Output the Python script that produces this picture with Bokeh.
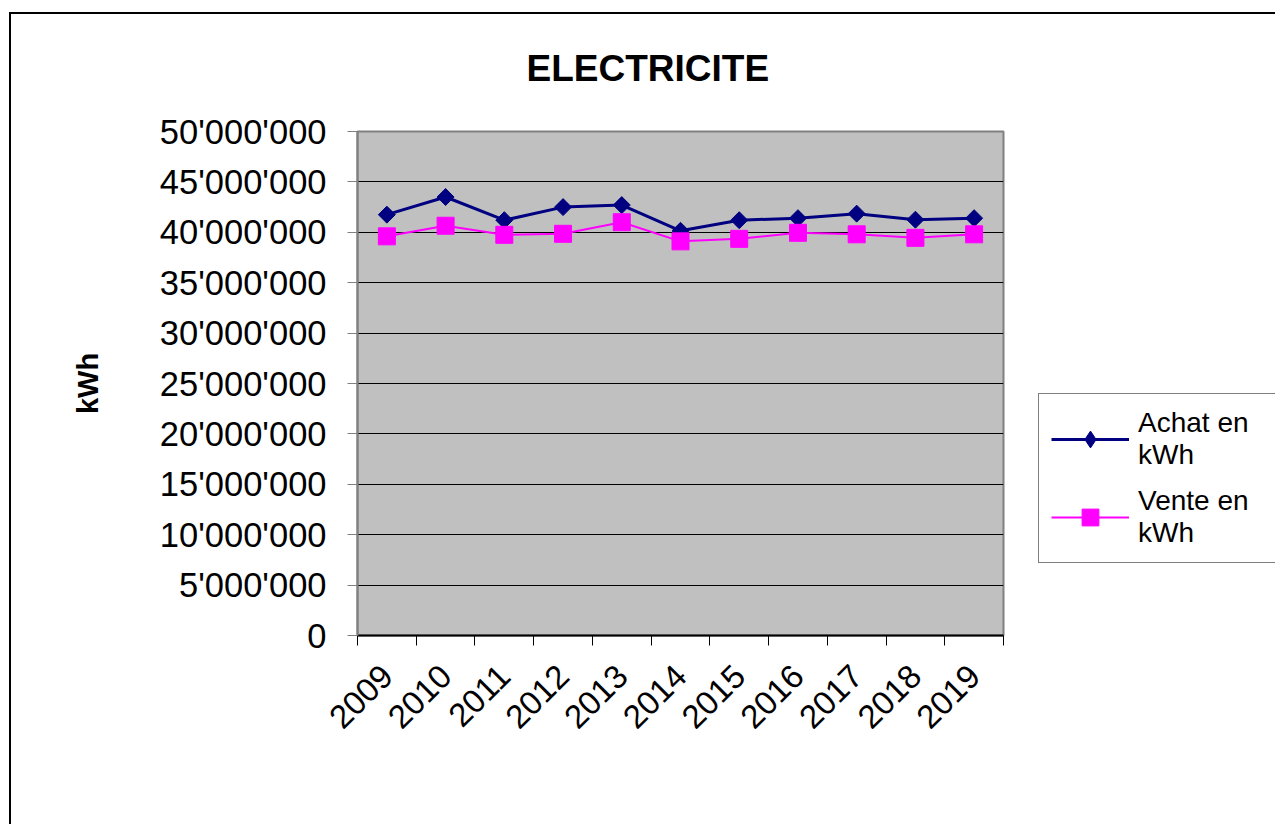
from math import pi
from bokeh.plotting import figure
from bokeh.layouts import row
from bokeh.models import ColumnDataSource, FixedTicker, Legend, LegendItem, Range1d, Title
from bokeh.embed import file_html
from bokeh.resources import INLINE

# ---- data ----
years = [2009, 2010, 2011, 2012, 2013, 2014, 2015, 2016, 2017, 2018, 2019]
achat = [41_750_000, 43_500_000, 41_200_000, 42_500_000, 42_700_000, 40_150_000,
         41_200_000, 41_400_000, 41_850_000, 41_250_000, 41_400_000]
vente = [39_600_000, 40_650_000, 39_750_000, 39_850_000, 41_000_000, 39_100_000,
         39_350_000, 39_950_000, 39_800_000, 39_450_000, 39_800_000]
y_ticks = [0, 5_000_000, 10_000_000, 15_000_000, 20_000_000, 25_000_000,
           30_000_000, 35_000_000, 40_000_000, 45_000_000, 50_000_000]
y_tick_labels = ["0", "5'000'000", "10'000'000", "15'000'000", "20'000'000", "25'000'000",
                 "30'000'000", "35'000'000", "40'000'000", "45'000'000", "50'000'000"]
series_names = ["Achat en\nkWh", "Vente en\nkWh"]
series_colors = ["#000080", "#FF00FF"]
title_text = "ELECTRICITE"
y_title = "kWh"

FONT = "Liberation Sans"
H = 810

src = ColumnDataSource(data=dict(year=years, achat=achat, vente=vente))

p = figure(width=1026, height=H,
           x_range=Range1d(years[0] - 0.5, years[-1] + 0.5),
           y_range=Range1d(y_ticks[0], y_ticks[-1]),
           output_backend="svg", toolbar_location=None,
           min_border_left=346, min_border_right=34,
           min_border_top=117, min_border_bottom=189,
           background_fill_color="#C0C0C0", border_fill_color="white",
           outline_line_color="#808080", outline_line_width=2)

# title (outermost) and an empty spacer title between it and the frame
p.title.text = title_text
p.title.align = "left"
p.title.offset = 169
p.title.text_font = FONT
p.title.text_font_size = "37px"
p.title.text_font_style = "bold"
p.title.text_color = "black"
p.title.standoff = 0
p.add_layout(Title(text=" ", text_font_size="10px", standoff=30), "above")

# grid
p.xgrid.visible = False
p.ygrid.grid_line_color = "black"
p.ygrid.grid_line_width = 1

# y axis
p.yaxis.ticker = FixedTicker(ticks=y_ticks, minor_ticks=[])
p.yaxis.major_label_overrides = {t: l for t, l in zip(y_ticks, y_tick_labels)}
p.yaxis.axis_line_color = "#808080"
p.yaxis.axis_line_width = 2
p.yaxis.major_tick_line_color = "#808080"
p.yaxis.major_tick_line_width = 1
p.yaxis.major_tick_out = 10
p.yaxis.major_tick_in = 0
p.yaxis.minor_tick_line_color = None
p.yaxis.major_label_text_font = FONT
p.yaxis.major_label_text_font_size = "34.5px"
p.yaxis.major_label_text_color = "black"
p.yaxis.major_label_standoff = 21
p.yaxis.axis_label = y_title
p.yaxis.axis_label_text_font = FONT
p.yaxis.axis_label_text_font_size = "29px"
p.yaxis.axis_label_text_font_style = "bold"
p.yaxis.axis_label_text_color = "black"
p.yaxis.axis_label_standoff = 53

# x axis
p.xaxis.ticker = FixedTicker(ticks=years, minor_ticks=[y - 0.5 for y in years] + [years[-1] + 0.5])
p.xaxis.major_label_overrides = {y: str(y) for y in years}
p.xaxis.axis_line_color = "black"
p.xaxis.axis_line_width = 2
p.xaxis.major_tick_out = 0
p.xaxis.major_tick_in = 0
p.xaxis.minor_tick_out = 10
p.xaxis.minor_tick_in = 0
p.xaxis.minor_tick_line_color = "black"
p.xaxis.minor_tick_line_width = 1
p.xaxis.major_label_orientation = pi / 4
p.xaxis.major_label_text_font = FONT
p.xaxis.major_label_text_font_size = "33px"
p.xaxis.major_label_text_color = "black"
p.xaxis.major_label_standoff = 25

# series
p.line("year", "achat", source=src, line_color=series_colors[0], line_width=3)
p.scatter("year", "achat", source=src, marker="square", angle=pi / 4, size=12,
          fill_color=series_colors[0], line_color=series_colors[0])
p.line("year", "vente", source=src, line_color=series_colors[1], line_width=2)
p.scatter("year", "vente", source=src, marker="square", size=17,
          fill_color=series_colors[1], line_color=series_colors[1])

# legend panel: a second figure whose ranges hold none of the data, so only
# its legend shows (a legend placed outside the main frame gets clipped)
lg = figure(width=238, height=H, x_range=Range1d(0, 1), y_range=Range1d(0, 1),
            output_backend="svg", toolbar_location=None,
            min_border_left=0, min_border_right=0, min_border_top=0, min_border_bottom=0,
            outline_line_color=None, background_fill_color="white",
            border_fill_color="white")
lg.axis.visible = False
lg.grid.visible = False
ll1 = lg.line("year", "achat", source=src, line_color=series_colors[0], line_width=3)
lm1 = lg.scatter("year", "achat", source=src, marker="diamond", size=20,
                 fill_color=series_colors[0], line_color=series_colors[0])
ll2 = lg.line("year", "vente", source=src, line_color=series_colors[1], line_width=2)
lm2 = lg.scatter("year", "vente", source=src, marker="square", size=17,
                 fill_color=series_colors[1], line_color=series_colors[1])

legend = Legend(items=[LegendItem(label=series_names[0], renderers=[ll1, lm1]),
                       LegendItem(label=series_names[1], renderers=[ll2, lm2])],
                location=(1, 72), margin=0, padding=12, spacing=12,
                glyph_width=78, glyph_height=42, label_standoff=9,
                label_width=127, label_height=66,
                label_text_font=FONT, label_text_font_size="28px",
                label_text_color="black",
                border_line_color="black", border_line_width=1,
                background_fill_color="white", background_fill_alpha=1)
lg.add_layout(legend, "center")

layout = row(p, lg, spacing=0,
             styles={"margin-left": "9px", "margin-top": "12px",
                     "border-left": "2px solid black", "border-top": "2px solid black"})

open("out.html", "w").write(file_html(layout, INLINE))
